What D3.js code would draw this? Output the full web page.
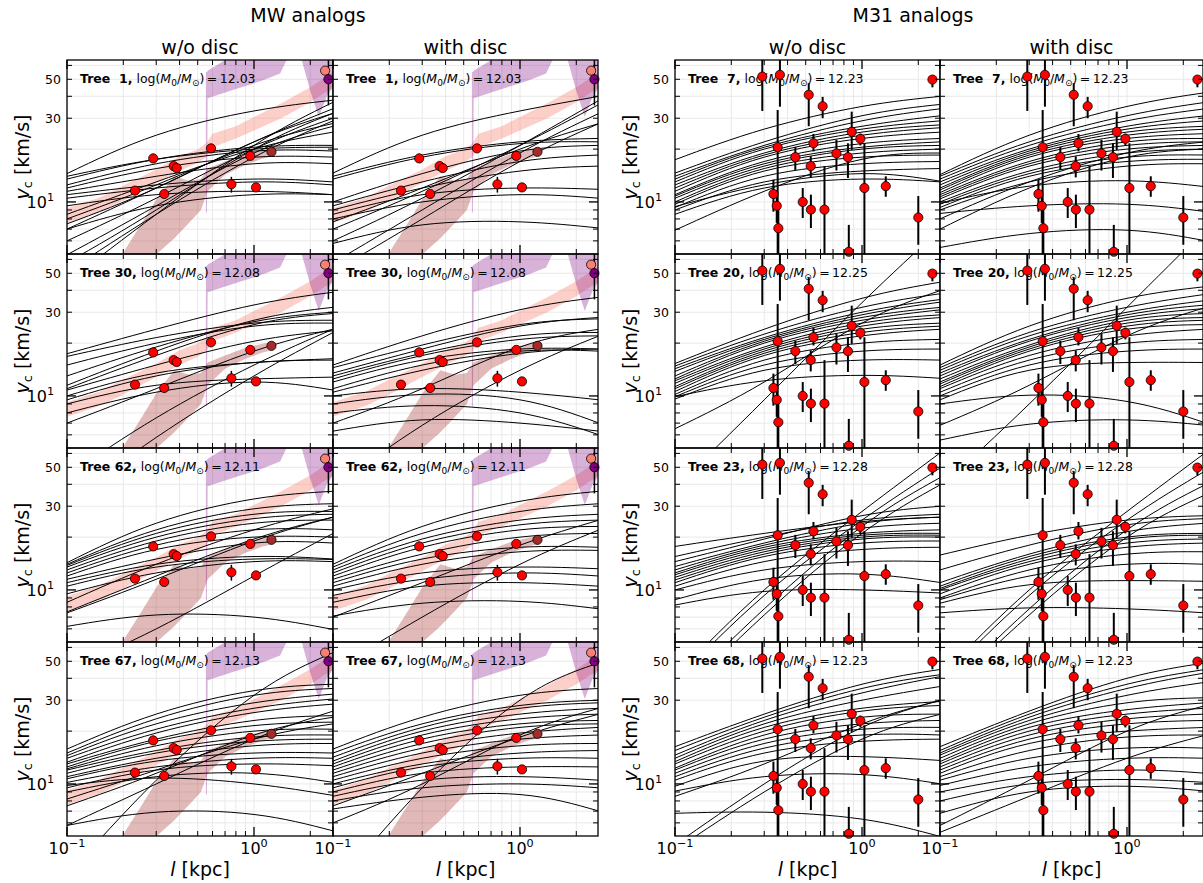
<!DOCTYPE html>
<html>
<head>
<meta charset="utf-8">
<script src="https://cdn.jsdelivr.net/npm/d3@7"></script>
<style>
  body { margin: 0; background: #fff; }
  text { font-family: "DejaVu Sans", sans-serif; fill: #000; }
</style>
</head>
<body>
<svg id="fig" width="1203" height="883"></svg>
<script>
'use strict';

// sampled radii (kpc) at which each rotation curve value below is read
const xKnots = [0.1, 0.3, 1.0, 2.65];

// MW observational points
const mwObsX  = [0.231, 0.289, 0.331, 0.372, 0.386, 0.589, 0.757, 0.955, 1.025];
const mwObsV  = [11.6, 17.7, 11.1, 16.0, 15.6, 20.2, 12.6, 18.3, 12.1];
const mwObsLo = [11.2, 16.8, 10.7, 15.6, 15.2, 19.7, 11.3, 17.9, 11.5];
const mwObsHi = [12.0, 18.8, 11.5, 16.4, 16.0, 20.7, 13.9, 18.7, 12.7];
const mwExtraX  = [1.24, 2.4, 2.5];
const mwExtraV  = [19.3, 56, 50];
const mwExtraLo = [19.3, 56, 35.5];
const mwExtraHi = [19.3, 56, 75];
const mwExtraColor = ['#a52a2a', '#fa8072', '#800080'];

// M31 observational points
const m31ObsX  = [0.293, 0.364, 0.519, 0.616, 0.354, 0.44, 0.532, 0.55, 0.73, 0.841, 0.881, 0.98,
                  1.03, 1.34, 2.0, 2.38, 0.336, 0.35, 0.357, 0.482, 0.533, 0.63, 0.85];
const m31ObsV  = [51.8, 53, 40.8, 35.1, 20.5, 18.0, 16.0, 21.6, 18.9, 18.0, 25.1, 22.9,
                  12.0, 12.3, 8.15, 49.8, 11.1, 9.5, 7.08, 10.0, 9.04, 9.04, 5.2];
const m31ObsLo = [33, 34.9, 27, 30, 4, 15.2, 13.8, 19.4, 15.1, 13.7, 19.8, 21,
                  3, 10.7, 5.7, 45, 8.8, 7.6, 4, 8.1, 7.1, 3, 3];
const m31ObsHi = [75, 75, 47.5, 39.7, 33.4, 20.6, 18.2, 24.4, 22.6, 21.6, 32.7, 24.5,
                  21.6, 14.0, 10.8, 52, 13.4, 11.7, 9.3, 12.0, 11, 16, 7.4];

// shaded bands in the MW panels
const pinkBandX  = [0.1, 0.15, 0.2, 0.3, 0.4, 0.5, 0.555, 0.6, 0.8, 1.0, 1.4, 2.0, 2.65];
const pinkBandLo = [7.6, 8.8, 10.2, 12.8, 15.0, 16.7, 18.0, 20.5, 23, 25.5, 30, 37, 45];
const pinkBandHi = [9.2, 10.6, 12.4, 15.3, 18.2, 19.9, 21.5, 24.5, 27, 30.5, 36.5, 45, 55];
const brownBandX  = [0.15, 0.198, 0.25, 0.303, 0.375, 0.45, 0.52, 0.565, 0.7, 0.9, 1.1, 1.24];
const brownBandLo = [2.6, 3.4, 4.2, 5.06, 6.2, 7.6, 9.0, 11.5, 14.3, 16.3, 17.6, 18.2];
const brownBandHi = [3.6, 5.06, 7.5, 10.5, 14.0, 13.2, 13.5, 15.5, 17.0, 18.8, 19.8, 20.3];
const purpleAX  = [0.553, 0.56, 0.565, 0.8, 1.1, 1.38, 1.55];
const purpleALo = [8.7, 8.7, 39, 44, 49, 54, 70];
const purpleAHi = [55, 55, 56, 70, 70, 70, 70];
const purpleBX  = [1.76, 2.0, 2.22, 2.45, 2.65];
const purpleBLo = [70, 43, 30.5, 40, 45];
const purpleBHi = [70, 70, 70, 70, 70];

// panel labels
const mwTrees = [1, 30, 62, 67];
const mwMasses = ['12.03', '12.08', '12.11', '12.13'];
const m31Trees = [7, 20, 23, 68];
const m31Masses = ['12.23', '12.25', '12.28', '12.23'];

// rotation curves, values in km/s at xKnots
const mwT1NoDisc = [
  [14.5, 24, 33, 38], [13.5, 17.5, 20.5, 21], [14, 17.5, 20, 20.5], [12.5, 16.5, 19.5, 19.5],
  [12, 15.5, 18, 18], [11.5, 14, 16.5, 16.5], [11, 12.5, 13.5, 13], [10.5, 12, 13, 12.5],
  [9.5, 11, 11.5, 11], [8.5, 13, 20, 25], [8, 12.5, 21, 28], [7.5, 12, 22, 32],
  [7, 12, 22, 34], [6, 10.5, 20, 30], [5, 9.5, 19, 27], [4.5, 9, 20, 32],
  [4, 8.5, 18, 29], [3.5, 8.5, 21, 37], [7, 9.5, 11, 11]
];
const mwT1Disc = [
  [14.6, 24, 33, 40], [14, 18.5, 22, 23], [13.5, 18, 21.5, 22], [10, 14.5, 19.5, 21],
  [9.5, 13, 17, 18.5], [9, 12, 15, 16], [8.5, 11, 12, 11.8], [8, 10, 11, 10.5],
  [7.7, 12, 20, 28], [7, 11.5, 21, 36], [6, 10.5, 21, 38], [5.8, 7.4, 7.7, 7.1],
  [4.5, 9, 19, 32], [4, 8, 17, 28]
];
const mwT30NoDisc = [
  [17.4, 24, 33, 39], [16.8, 21.5, 26, 27], [15, 20, 25, 26], [13, 19, 26.5, 30],
  [11.5, 18, 27, 32], [11, 17, 25.5, 29.5], [10.8, 15, 20.5, 23.5], [10, 13.5, 15.5, 16.3],
  [9.5, 13, 15.5, 16], [9, 11.5, 12.5, 12.8], [8, 10.5, 12, 10.8], [7, 11, 18, 24],
  [3.5, 7.5, 15, 24], [2.5, 5.8, 13, 23]
];
const mwT30Disc = [
  [15, 22, 31, 36.5], [14.5, 19.5, 25.5, 27.5], [13.5, 18.5, 25, 28], [13, 17.5, 22, 23],
  [12.5, 17, 21, 22], [12, 16, 18.5, 18.5], [11, 15, 18, 18], [10.5, 14, 17.5, 18.5],
  [10, 11, 10.5, 9.5], [9, 10.2, 9.5, 7], [8, 8.8, 8, 6], [6.3, 7.3, 7, 6.3],
  [7, 11, 19, 24], [3, 6.8, 14, 22]
];
const mwT62NoDisc = [
  [14.3, 24, 33, 36.5], [14, 22, 29, 31], [13.8, 21, 27, 28], [13.5, 20, 25.5, 27],
  [13, 19, 24, 25], [12.5, 18, 22, 22], [12, 17, 20, 20], [11.5, 15, 18.5, 18.5],
  [11, 14, 15.5, 15], [10.5, 13.5, 15, 14.9], [9.5, 12.5, 14.5, 14.5], [8.5, 14, 22, 29],
  [7.5, 12, 19.5, 26], [6.2, 7.2, 7, 5.95], [3.5, 6, 12, 21], [7.4, 11.5, 19, 26]
];
const mwT62Disc = [
  [14, 23, 32, 36.5], [13.5, 21, 28, 31], [13, 19.5, 25, 27], [12.5, 18.5, 23.5, 25],
  [12, 17.5, 22, 23], [11.5, 16, 20, 21], [11, 15, 17.5, 17.5], [10.5, 14, 16.5, 16.8],
  [10, 12.5, 13.5, 13.2], [9.3, 11.5, 12.5, 12], [8.5, 10.5, 11, 10.5], [7.1, 8.4, 8.6, 7.8],
  [7, 11, 18, 25], [3.5, 7, 14, 22]
];
const mwT67NoDisc = [
  [15.8, 25, 34, 37], [15, 23.5, 32, 35], [14.5, 22, 29, 32.5], [14, 20.5, 27, 30.5],
  [13.3, 19.5, 25.5, 28.5], [13, 18, 23, 24.5], [12.5, 17.5, 21.5, 22.5], [12.2, 16.5, 20, 20.5],
  [12, 15.5, 18.5, 19], [11.5, 15, 17.5, 18], [11, 14, 16.5, 17], [10.7, 13.5, 15, 15],
  [10.2, 12.5, 14, 14], [9.5, 12, 13, 12.7], [9, 11, 11.5, 10.2], [9.8, 10.8, 10, 8.6],
  [8.2, 12, 18, 22], [7.5, 11.5, 19, 24], [5.8, 10, 18, 26], [5.8, 6.9, 6.7, 5.4],
  [3, 10.5, 32, 56]
];
const mwT67Disc = [
  [15.8, 24, 32, 35], [15, 22, 28, 30], [14.2, 21, 27, 29], [13.5, 20, 25, 27],
  [13, 19, 23.5, 25], [12.5, 18, 22, 23], [12, 17, 21, 22], [11.5, 16, 19.5, 21],
  [11, 15, 18, 19], [10.5, 14, 16.5, 17], [10, 13, 15, 15.5], [9.5, 12.5, 14, 14],
  [9, 11.5, 12.5, 12.5], [8.5, 10.5, 11, 10.5], [8, 9.5, 10, 9.5], [7.2, 8.4, 8.7, 7],
  [7.5, 11.5, 18.5, 25], [6, 10, 19, 27], [2.5, 9.5, 30, 49]
];
const m31T7NoDisc = [
  [17.4, 26, 35, 40], [14.6, 22, 31, 36], [14, 21, 29, 34], [13.5, 20.5, 27, 31],
  [13, 20, 26, 29], [12.5, 19, 25, 27.5], [12, 18.5, 24, 26.5], [11.5, 18, 23, 25],
  [11, 17, 21.5, 23], [10.8, 16.5, 20.5, 22], [10.5, 16, 20, 21], [10, 15.5, 19, 20],
  [9.7, 15, 18, 18.5], [9.3, 14, 16.5, 17], [9, 13, 15, 15.5], [8.5, 12, 13.5, 13],
  [6.9, 11.5, 17.5, 19], [9.4, 12.5, 14.5, 13.1]
];
const m31T7Disc = [
  [14.3, 24, 35, 42], [14, 22, 31, 37], [13.5, 21, 29, 34], [13, 20, 27, 31],
  [12.5, 19.5, 26, 29], [12, 19, 25, 27], [11.7, 18.5, 24, 26], [11.3, 18, 23, 24.5],
  [11, 17, 22, 23], [10.7, 16.5, 21, 22], [10.4, 16, 20, 21], [10, 15, 19, 20],
  [9.7, 14.5, 18, 18.5], [9.3, 14, 17, 17.5], [9, 13, 16, 16.5], [8, 13, 19, 22],
  [7, 12, 18, 20], [9.8, 12.3, 13.2, 12.2], [8.6, 9.5, 9.7, 8.8], [5.5, 6.6, 6.9, 6]
];
const m31T20NoDisc = [
  [15.3, 24, 36, 44.6], [14.8, 22.5, 32, 38.3], [14.3, 21.5, 30, 35.5], [13.8, 21, 29, 34.3],
  [13, 20.5, 28, 32], [12.5, 20, 27, 31], [12.2, 19, 26, 29], [11.8, 18.5, 25, 28],
  [11.3, 18, 24, 26], [11, 17.5, 23, 25], [10.6, 17, 22, 24], [10.2, 16, 20, 21],
  [9.9, 15, 18, 18.5], [9.6, 14, 16, 16], [9.9, 12.2, 13.1, 12.6], [6.5, 12, 26, 40],
  [3, 9.5, 34, 90]
];
const m31T20Disc = [
  [15, 25, 36, 42], [14.5, 23, 32, 38], [14, 22, 30, 35], [13.5, 21, 29, 33],
  [13, 20.5, 28, 31.5], [12.5, 19.5, 27, 29.5], [12, 19, 26, 28], [11.7, 18.5, 25, 27],
  [11.3, 18, 24, 25.5], [11, 17, 22, 24], [10.5, 16, 20, 21], [10, 15, 18, 18.5],
  [9.5, 14, 15.5, 15.5], [9.0, 10.1, 9.3, 7], [5.6, 6.9, 7.3, 6.8], [6.8, 11.5, 22, 32],
  [3, 9, 32, 90]
];
const m31T23NoDisc = [
  [17.7, 21, 24.5, 26], [15.5, 20, 25, 27], [14.5, 19.5, 26.5, 30], [13.6, 18.5, 24, 26],
  [13, 18, 22.5, 24], [12.5, 17.5, 21, 22], [12.2, 17, 20.5, 21], [11.8, 16.5, 20, 20.5],
  [11.4, 16, 19.5, 20], [11, 15.5, 18.5, 19], [10.5, 14.5, 17, 17.5], [10, 13, 14.5, 14.5],
  [8.8, 11.5, 12.3, 11], [8.2, 9.8, 10, 9.6], [3.2, 10, 28, 61], [3, 9.3, 25, 50],
  [2.5, 7.8, 23, 44], [2.3, 7.2, 21, 40]
];
const m31T23Disc = [
  [15.8, 20.5, 25, 26.5], [13, 18, 23.5, 25.5], [11, 16, 21.5, 24], [10.5, 15.5, 20, 21],
  [10.2, 15, 19.5, 20.5], [10, 14.5, 18.5, 19.5], [9.5, 14, 17.5, 18.5], [9, 13, 16, 16.5],
  [8.8, 12, 14, 14], [8.4, 10.7, 11.3, 11.2], [7.4, 7.9, 7.8, 7.4], [3.2, 10, 28, 61],
  [3, 9.3, 25, 48], [2.5, 7.8, 22, 40], [2.4, 7.2, 20, 35]
];
const m31T68NoDisc = [
  [16.3, 25, 37, 45], [15.5, 24, 35, 42], [14.6, 23, 33, 41], [14, 22, 30, 36],
  [13.4, 21, 27, 29.5], [13, 20, 26, 28], [12.3, 19, 24, 25], [12, 18, 22, 23],
  [11.5, 17, 20.5, 21], [11, 16, 19, 19], [10.5, 15, 17.5, 18], [9.7, 13.5, 14.3, 13.6],
  [9.1, 11, 11.3, 10], [6.8, 6.9, 6.3, 5.0], [8.5, 13, 22, 30], [4.5, 10, 21, 30],
  [4.2, 9, 18, 25]
];
const m31T68Disc = [
  [16.3, 26, 40, 49], [15.5, 25, 37, 45], [15, 24, 35, 43], [14.6, 23, 32, 38],
  [14, 22, 29, 31], [13.4, 21, 26.5, 29], [13, 20, 25, 27], [12.5, 19, 23.5, 25],
  [12, 18, 22, 23], [11.5, 17, 20, 21], [11, 15.5, 18.5, 19], [10.5, 14, 16, 16],
  [9.8, 12.5, 14, 14], [9, 11, 12, 11.5], [8, 10, 10.6, 10.2], [6.8, 9, 9.7, 9.1],
  [5.3, 8.5, 14, 19], [5.8, 10.5, 20, 28]
];

const mwCurves = [[mwT1NoDisc, mwT1Disc], [mwT30NoDisc, mwT30Disc],
                  [mwT62NoDisc, mwT62Disc], [mwT67NoDisc, mwT67Disc]];
const m31Curves = [[m31T7NoDisc, m31T7Disc], [m31T20NoDisc, m31T20Disc],
                   [m31T23NoDisc, m31T23Disc], [m31T68NoDisc, m31T68Disc]];

// layout
const colLeft = [67, 333, 675, 940];
const colWidth = [266, 265, 265, 263];
const rowTop = [60, 254, 448, 642];
const rowH = 194;
const decadeX = 187;
const vMin = 5.05, vMax = 64.4;

const svg = d3.select('#fig');
const defs = svg.append('defs');

function isMajor(v) {
    let l = Math.log10(v);
    return Math.abs(l - Math.round(l)) < 1e-6;
}

function supLabel(sel, x, y, exp, size, anchor) {
    let t = sel.append('text')
        .attr('x', x).attr('y', y)
        .attr('font-size', size)
        .attr('text-anchor', anchor);
    t.append('tspan').text('10');
    t.append('tspan').attr('font-size', size * 0.7).attr('dy', -size * 0.42).text(exp);
    return t;
}

function drawPanel(col, row, curves, isMW, tree, mass) {
    let left = colLeft[col], w = colWidth[col], top = rowTop[row];
    let x = d3.scaleLog().domain([0.1, Math.pow(10, w / decadeX - 1)]).range([left, left + w]);
    let y = d3.scaleLog().domain([vMin, vMax]).range([top + rowH, top]);

    let clipId = 'clip-' + col + '-' + row;
    defs.append('clipPath').attr('id', clipId)
        .append('rect').attr('x', left).attr('y', top).attr('width', w).attr('height', rowH);

    let g = svg.append('g');
    let inner = g.append('g').attr('clip-path', 'url(#' + clipId + ')');

    let xt = x.ticks();
    let yt = y.ticks();

    // grid
    inner.selectAll('.gx').data(xt).enter().append('line')
        .attr('x1', d => x(d)).attr('x2', d => x(d))
        .attr('y1', top).attr('y2', top + rowH)
        .attr('stroke', '#e9e9e9').attr('stroke-width', 1);
    inner.selectAll('.gy').data(yt).enter().append('line')
        .attr('x1', left).attr('x2', left + w)
        .attr('y1', d => y(d)).attr('y2', d => y(d))
        .attr('stroke', '#e9e9e9').attr('stroke-width', 1);

    if (isMW) {
        let band = (xs, lo, hi) => d3.area()
            .x((d, i) => x(xs[i]))
            .y0((d, i) => y(lo[i]))
            .y1((d, i) => y(hi[i]))(xs);
        inner.append('path').attr('d', band(pinkBandX, pinkBandLo, pinkBandHi))
            .attr('fill', '#fa8072').attr('fill-opacity', 0.38);
        inner.append('path').attr('d', band(brownBandX, brownBandLo, brownBandHi))
            .attr('fill', '#a52a2a').attr('fill-opacity', 0.33);
        inner.append('path').attr('d', band(purpleAX, purpleALo, purpleAHi))
            .attr('fill', '#800080').attr('fill-opacity', 0.3);
        inner.append('path').attr('d', band(purpleBX, purpleBLo, purpleBHi))
            .attr('fill', '#800080').attr('fill-opacity', 0.3);
    }

    // rotation curves
    let line = d3.line()
        .x((d, i) => x(xKnots[i]))
        .y(d => y(d))
        .curve(d3.curveNatural);
    inner.selectAll('.curve').data(curves).enter().append('path')
        .attr('d', d => line(d))
        .attr('fill', 'none').attr('stroke', '#000').attr('stroke-width', 1);

    // annotation
    let ann = g.append('text')
        .attr('x', left + 13).attr('y', top + 23)
        .attr('font-size', 12.5)
        .style('white-space', 'pre');
    ann.append('tspan').attr('font-weight', 'bold').text('Tree ' + String(tree).padStart(2, ' ') + ',');
    ann.append('tspan').text(' log(');
    ann.append('tspan').attr('font-style', 'italic').text('M');
    ann.append('tspan').attr('font-size', 9).attr('dy', 3).text('0');
    ann.append('tspan').attr('dy', -3).text('/');
    ann.append('tspan').attr('font-style', 'italic').text('M');
    ann.append('tspan').attr('font-size', 9).attr('dy', 3).text('\u2299');
    ann.append('tspan').attr('dy', -3).text(')\u2009=\u2009' + mass);

    // observations
    let ox = isMW ? mwObsX : m31ObsX;
    let ov = isMW ? mwObsV : m31ObsV;
    let olo = isMW ? mwObsLo : m31ObsLo;
    let ohi = isMW ? mwObsHi : m31ObsHi;
    let errW = isMW ? 1.5 : 2;
    inner.selectAll('.err').data(ox).enter().append('line')
        .attr('x1', d => x(d)).attr('x2', d => x(d))
        .attr('y1', (d, i) => y(olo[i])).attr('y2', (d, i) => y(ohi[i]))
        .attr('stroke', '#000').attr('stroke-width', errW);
    if (isMW) {
        inner.selectAll('.errx').data(mwExtraX).enter().append('line')
            .attr('x1', d => x(d)).attr('x2', d => x(d))
            .attr('y1', (d, i) => y(mwExtraLo[i])).attr('y2', (d, i) => y(mwExtraHi[i]))
            .attr('stroke', '#000').attr('stroke-width', 1.5);
    }
    g.selectAll('.pt').data(ox).enter().append('circle')
        .attr('cx', d => x(d)).attr('cy', (d, i) => y(ov[i]))
        .attr('r', 4.6)
        .attr('fill', '#ff0000').attr('stroke', '#000').attr('stroke-width', 0.8);
    if (isMW) {
        g.selectAll('.ptx').data(mwExtraX).enter().append('circle')
            .attr('cx', d => x(d)).attr('cy', (d, i) => y(mwExtraV[i]))
            .attr('r', 4.6)
            .attr('fill', (d, i) => mwExtraColor[i]).attr('stroke', '#000').attr('stroke-width', 0.8);
    }

    // ticks (inward, all four sides)
    let xtk = xt.filter(d => x(d) <= left + w + 0.5);
    let tk = g.append('g').attr('stroke', '#000');
    xtk.forEach(d => {
        let len = isMajor(d) ? 9 : 5;
        let sw = isMajor(d) ? 1.3 : 1;
        tk.append('line').attr('x1', x(d)).attr('x2', x(d))
            .attr('y1', top + rowH).attr('y2', top + rowH - len).attr('stroke-width', sw);
        tk.append('line').attr('x1', x(d)).attr('x2', x(d))
            .attr('y1', top).attr('y2', top + len).attr('stroke-width', sw);
    });
    yt.forEach(d => {
        let len = isMajor(d) ? 9 : 5;
        let sw = isMajor(d) ? 1.3 : 1;
        tk.append('line').attr('x1', left).attr('x2', left + len)
            .attr('y1', y(d)).attr('y2', y(d)).attr('stroke-width', sw);
        tk.append('line').attr('x1', left + w).attr('x2', left + w - len)
            .attr('y1', y(d)).attr('y2', y(d)).attr('stroke-width', sw);
    });

    g.append('rect').attr('x', left).attr('y', top).attr('width', w).attr('height', rowH)
        .attr('fill', 'none').attr('stroke', '#000').attr('stroke-width', 1.3);

    // tick labels
    if (col === 0 || col === 2) {
        [50, 30].forEach(v => {
            g.append('text').attr('x', left - 6).attr('y', y(v) + 4.5)
                .attr('font-size', 12.5).attr('text-anchor', 'end').text(v);
        });
        supLabel(g, left - 13, y(10) + 6, '1', 16, 'end');
    }
    if (row === 3) {
        supLabel(g, x(0.1), 854, '\u22121', 16, 'middle');
        supLabel(g, x(1), 854, '0', 16, 'middle');
    }
}

for (let r = 0; r < 4; r++) {
    for (let c = 0; c < 2; c++) {
        drawPanel(c, r, mwCurves[r][c], true, mwTrees[r], mwMasses[r]);
        drawPanel(c + 2, r, m31Curves[r][c], false, m31Trees[r], m31Masses[r]);
    }
}

// titles
svg.append('text').attr('x', 308).attr('y', 22).attr('font-size', 19)
    .attr('text-anchor', 'middle').text('MW analogs');
svg.append('text').attr('x', 913).attr('y', 22).attr('font-size', 19)
    .attr('text-anchor', 'middle').text('M31 analogs');
const colTitles = ['w/o disc', 'with disc', 'w/o disc', 'with disc'];
colTitles.forEach((t, c) => {
    svg.append('text').attr('x', colLeft[c] + colWidth[c] / 2).attr('y', 54)
        .attr('font-size', 19).attr('text-anchor', 'middle').text(t);

    let xl = svg.append('text').attr('x', colLeft[c] + colWidth[c] / 2).attr('y', 876)
        .attr('font-size', 19).attr('text-anchor', 'middle').style('white-space', 'pre');
    xl.append('tspan').attr('font-style', 'italic').text('l');
    xl.append('tspan').text(' [kpc]');
});

// y axis labels
[22, 630].forEach(xp => {
    rowTop.forEach(t => {
        let yl = svg.append('text')
            .attr('transform', 'translate(' + (xp + 7) + ',' + (t + rowH / 2) + ') rotate(-90)')
            .attr('font-size', 19).attr('text-anchor', 'middle').style('white-space', 'pre');
        yl.append('tspan').attr('font-style', 'italic').text('v');
        yl.append('tspan').attr('font-size', 13).attr('dy', 3).text('c');
        yl.append('tspan').attr('dy', -3).text(' [km/s]');
    });
});
</script>
</body>
</html>
